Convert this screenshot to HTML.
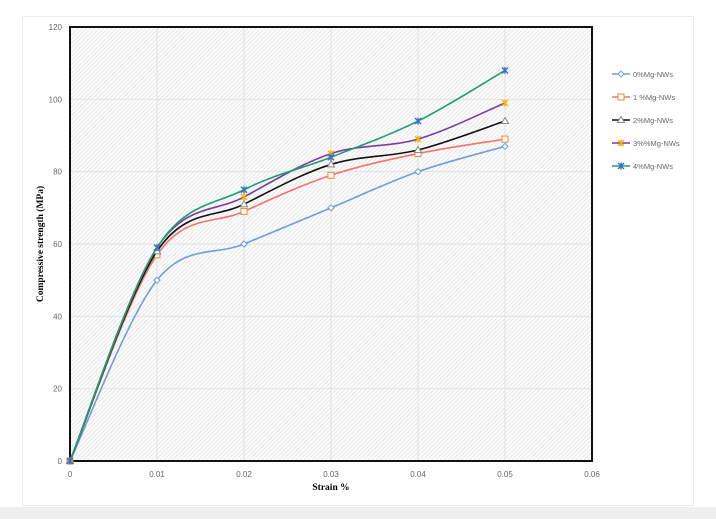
<!DOCTYPE html>
<html><head><meta charset="utf-8"><style>
html,body{margin:0;padding:0;background:#fff;}
body{width:716px;height:519px;overflow:hidden;position:relative;font-family:"Liberation Sans",sans-serif;}
</style></head><body>
<svg id="s" width="716" height="519" xmlns="http://www.w3.org/2000/svg">
<defs>
<pattern id="h" width="3" height="3" patternUnits="userSpaceOnUse" patternTransform="rotate(45)">
<rect width="3" height="3" fill="#fbfbfb"/><line x1="0" y1="0" x2="0" y2="3" stroke="#d9d9d9" stroke-width="1"/>
</pattern>
</defs>
<rect x="0" y="507" width="716" height="12" fill="#efefef"/>
<rect x="22.5" y="16.5" width="671" height="489" fill="#fff" stroke="#ececec"/>
<rect x="70" y="27" width="522" height="434" fill="url(#h)"/>
<g id="grid" stroke="#e2e2e2" stroke-width="1"></g>
<rect x="70" y="27" width="522" height="434" fill="none" stroke="#111" stroke-width="2"/>
<g id="ticks" font-size="8" fill="#666"></g>
<text x="331" y="490" font-family="Liberation Serif" font-weight="bold" font-size="9.5" text-anchor="middle">Strain %</text>
<text transform="translate(43,244) rotate(-90)" font-family="Liberation Serif" font-weight="bold" font-size="9.5" text-anchor="middle">Compressive strength (MPa)</text>
<g id="series"></g>
<g id="legend" font-size="7.5" fill="#666"></g>
</svg>
<script>
const X=v=>70+v*8700, Y=v=>461-v*434/120;
const ns="http://www.w3.org/2000/svg";
function el(t,a,p){const e=document.createElementNS(ns,t);for(const k in a)e.setAttribute(k,a[k]);p.appendChild(e);return e;}
const g=document.getElementById('grid'),tk=document.getElementById('ticks');
for(let i=1;i<6;i++){el('line',{x1:X(i/100),x2:X(i/100),y1:27,y2:461},g);}
for(let j=1;j<6;j++){el('line',{x1:70,x2:592,y1:Y(j*20),y2:Y(j*20)},g);}
for(let i=0;i<=6;i++){const t=el('text',{x:X(i/100),y:477,'text-anchor':'middle'},tk);t.textContent=i?('0.0'+i):'0';}
for(let j=0;j<=6;j++){const t=el('text',{x:62,y:Y(j*20)+3,'text-anchor':'end'},tk);t.textContent=j*20;}
const xs=[0,0.01,0.02,0.03,0.04,0.05];
const S=[
{n:'0%Mg-NWs',c:'#6f9fd6',m:'dia',mc:'#6f9fd6',d:[0,50,60,70,80,87]},
{n:'1 %Mg-NWs',c:'#f4746c',m:'sq',mc:'#e8883a',d:[0,57,69,79,85,89]},
{n:'2%Mg-NWs',c:'#111',m:'tri',mc:'#888',d:[0,58,71,82,86,94]},
{n:'3%%Mg-NWs',c:'#7a3aa8',m:'star',mc:'#f5b400',d:[0,59,73,85,89,99]},
{n:'4%Mg-NWs',c:'#1e9e6e',m:'star',mc:'#3a6fc4',d:[0,59,75,84,94,108]}];
const sg=document.getElementById('series'),lg=document.getElementById('legend');
function marker(t,x,y,c,p){
 if(t=='dia')el('path',{d:`M${x} ${y-3}L${x+3} ${y}L${x} ${y+3}L${x-3} ${y}Z`,fill:'#fff',stroke:c,'stroke-width':1},p);
 else if(t=='sq')el('rect',{x:x-3,y:y-3,width:6,height:6,fill:'#fff',stroke:c,'stroke-width':1},p);
 else if(t=='tri')el('path',{d:`M${x} ${y-3.5}L${x+3.5} ${y+2.5}L${x-3.5} ${y+2.5}Z`,fill:'#fff',stroke:c,'stroke-width':1},p);
 else el('path',{d:`M${x-3} ${y-3}L${x+3} ${y+3}M${x+3} ${y-3}L${x-3} ${y+3}M${x} ${y-3.5}V${y+3.5}`,stroke:c,'stroke-width':1.4,fill:'none'},p);
}
S.forEach((s,k)=>{
 const P=xs.map((x,i)=>[X(x),Y(s.d[i])]);
 let d=`M${P[0][0]} ${P[0][1]}`;
 for(let i=0;i<P.length-1;i++){
  const p0=P[Math.max(0,i-1)],p1=P[i],p2=P[i+1],p3=P[Math.min(P.length-1,i+2)];
  const t=1/6;
  d+=`C${p1[0]+(p2[0]-p0[0])*t} ${p1[1]+(p2[1]-p0[1])*t} ${p2[0]-(p3[0]-p1[0])*t} ${p2[1]-(p3[1]-p1[1])*t} ${p2[0]} ${p2[1]}`;
 }
 el('path',{d:d,fill:'none',stroke:s.c,'stroke-width':1.6},sg);
 P.forEach(p=>marker(s.m,p[0],p[1],s.mc,sg));
 const ly=74+k*23;
 el('line',{x1:612,x2:630,y1:ly,y2:ly,stroke:s.c,'stroke-width':1.5},lg);
 marker(s.m,621,ly,s.mc,lg);
 const t=el('text',{x:633,y:ly+3},lg);t.textContent=s.n;
});
</script>
</body></html>
